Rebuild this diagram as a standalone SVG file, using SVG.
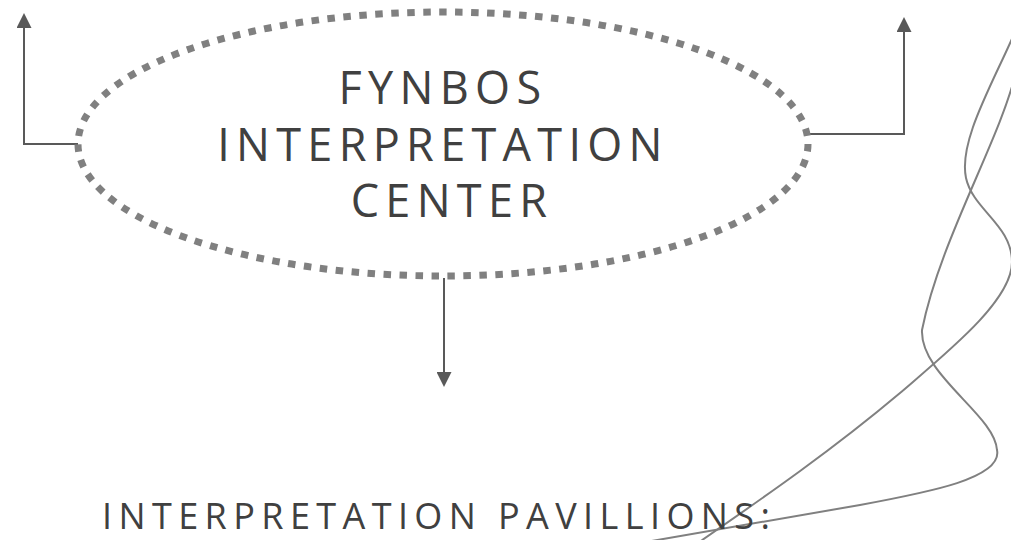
<svg xmlns="http://www.w3.org/2000/svg" width="1011" height="540" viewBox="0 0 1011 540">
  <style>
    .title { font-family: "Open Sans", "Liberation Sans", sans-serif; font-weight: 400; fill: #404040; }
    .conn { fill: none; stroke: #595959; stroke-width: 2; }
    .deco { fill: none; stroke: #808080; stroke-width: 2; }
    .dotted { fill: none; stroke: #808080; stroke-width: 7; stroke-dasharray: 7.5 8.5; }
  </style>
  <defs>
    <marker id="arrow" viewBox="0 0 15 15" refX="12" refY="7.5" markerWidth="15" markerHeight="15" markerUnits="userSpaceOnUse" orient="auto">
      <path d="M0,0 L15,7.5 L0,15 z" fill="#595959"/>
    </marker>
  </defs>
  <rect width="1011" height="540" fill="#ffffff"/>

  <g id="decoration">
    <path class="deco" d="M 1018,25 C 995,80 958,140 966,178 C 973,210 1012,225 1012,262 C 1012,300 950,350 900,393 C 830,452 760,500 695,545"/>
    <path class="deco" d="M 1016,72 C 1000,140 940,240 922,330 C 920,375 995,415 997,450 C 1003,478 930,492 860,505 L 640,543"/>
  </g>

  <g id="connectors">
    <path class="conn" d="M 78,144 H 24 V 16" marker-end="url(#arrow)"/>
    <path class="conn" d="M 808,134 H 904 V 20" marker-end="url(#arrow)"/>
    <path class="conn" d="M 444,278 V 384" marker-end="url(#arrow)"/>
  </g>

  <g id="center-node">
    <ellipse class="dotted" cx="443" cy="144" rx="365" ry="132"/>
    <text class="title" font-size="45" letter-spacing="6.3" text-anchor="middle">
      <tspan x="452" y="104">FYNBOS</tspan>
      <tspan x="452" y="161">INTERPRETATION</tspan>
      <tspan x="452" y="217">CENTER</tspan>
    </text>
  </g>

  <g id="pavillions-label">
    <text class="title" font-size="36" letter-spacing="6.4" x="102" y="529">INTERPRETATION PAVILLIONS:</text>
  </g>
</svg>
